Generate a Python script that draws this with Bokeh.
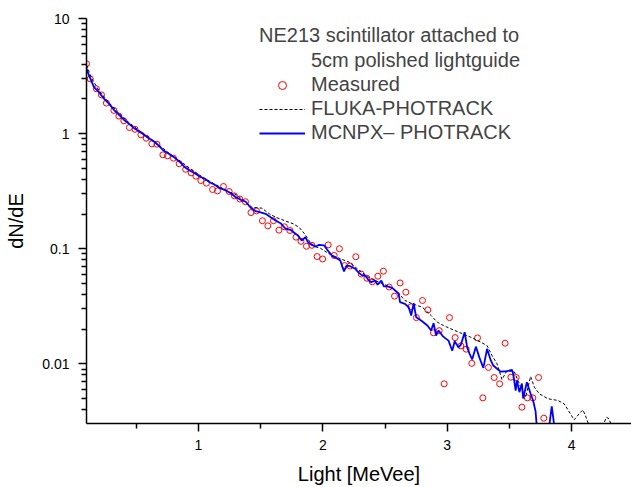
from bokeh.plotting import figure
from bokeh.models import (FixedTicker, CustomJSTickFormatter, Legend, LegendItem, Range1d)
from bokeh.embed import file_html
from bokeh.resources import INLINE

# ---- data ----
x_meas = [0.10, 0.13, 0.18, 0.22, 0.26, 0.32, 0.36, 0.40, 0.445, 0.49,
          0.537, 0.58, 0.625, 0.666, 0.714, 0.751, 0.799, 0.845, 0.897, 0.941,
          0.979, 1.019, 1.064, 1.113, 1.153, 1.201, 1.247, 1.289, 1.333, 1.378,
          1.422, 1.466, 1.514, 1.558, 1.603, 1.647, 1.691, 1.735, 1.784, 1.824,
          1.868, 1.912, 1.954, 1.998, 2.043, 2.091, 2.133, 2.175, 2.219, 2.265,
          2.308, 2.354, 2.398, 2.442, 2.487, 2.533, 2.576, 2.621, 2.667, 2.708,
          2.752, 2.801, 2.844, 2.889, 2.935, 2.975, 3.018, 3.063, 3.109, 3.152,
          3.197, 3.243, 3.286, 3.331, 3.377, 3.421, 3.465, 3.511, 3.554, 3.600,
          3.644, 3.688, 3.734, 3.776]
y_meas = [4.04, 2.99, 2.45, 2.17, 1.84, 1.59, 1.42, 1.29, 1.13, 1.09,
          0.976, 0.912, 0.815, 0.809, 0.654, 0.641, 0.611, 0.547, 0.490, 0.456,
          0.427, 0.391, 0.371, 0.327, 0.318, 0.347, 0.314, 0.288, 0.270, 0.256,
          0.206, 0.213, 0.175, 0.158, 0.175, 0.145, 0.155, 0.144, 0.126, 0.116,
          0.105, 0.107, 0.0855, 0.0814, 0.108, 0.0873, 0.100, 0.0714, 0.0708, 0.0851,
          0.0603, 0.0554, 0.0516, 0.0577, 0.0638, 0.0465, 0.0387, 0.0504, 0.0419, 0.0313,
          0.0252, 0.0355, 0.0294, 0.0186, 0.0194, 0.0067, 0.0252, 0.0169, 0.0143, 0.0134,
          0.0101, 0.0168, 0.00506, 0.0093, 0.0076, 0.0067, 0.0151, 0.00765, 0.0076, 0.0042,
          0.00506, 0.00506, 0.0076, 0.00337]

x_mcnpx = [0.10, 0.12, 0.16, 0.20, 0.24, 0.28, 0.32, 0.36, 0.40, 0.44,
           0.48, 0.52, 0.56, 0.60, 0.64, 0.68, 0.72, 0.77, 0.81, 0.85,
           0.89, 0.93, 0.97, 1.01, 1.05, 1.09, 1.13, 1.17, 1.22, 1.26,
           1.30, 1.34, 1.38, 1.42, 1.46, 1.50, 1.54, 1.58, 1.62, 1.66,
           1.70, 1.74, 1.78, 1.80, 1.83, 1.86, 1.88, 1.91, 1.94, 1.97,
           2.01, 2.05, 2.08, 2.11, 2.14, 2.17, 2.19, 2.22, 2.26, 2.29,
           2.31, 2.34, 2.37, 2.39, 2.42, 2.44, 2.47, 2.49, 2.52, 2.56,
           2.59, 2.61, 2.62, 2.66, 2.69, 2.71, 2.73, 2.75, 2.77, 2.80,
           2.84, 2.87, 2.89, 2.91, 2.93, 2.96, 2.98, 3.01, 3.04, 3.06,
           3.09, 3.11, 3.14, 3.16, 3.18, 3.20, 3.23, 3.26, 3.29, 3.32,
           3.35, 3.37, 3.40, 3.43, 3.48, 3.52, 3.53, 3.55, 3.56, 3.58,
           3.60, 3.61, 3.64, 3.67, 3.69, 3.71, 3.72, 3.77, 3.82, 3.84,
           3.86, 3.90]
y_mcnpx = [3.68, 3.20, 2.53, 2.29, 2.01, 1.82, 1.61, 1.46, 1.32, 1.22,
           1.12, 1.05, 0.982, 0.912, 0.859, 0.788, 0.713, 0.658, 0.616, 0.567,
           0.511, 0.478, 0.453, 0.424, 0.405, 0.378, 0.359, 0.336, 0.321, 0.303,
           0.280, 0.266, 0.256, 0.227, 0.212, 0.207, 0.201, 0.188, 0.176, 0.1665,
           0.149, 0.146, 0.1347, 0.130, 0.1178, 0.126, 0.114, 0.108, 0.1044, 0.108,
           0.1067, 0.0933, 0.0856, 0.0827, 0.0790, 0.0634, 0.0714, 0.0705, 0.0669, 0.0617,
           0.0593, 0.0585, 0.0529, 0.0512, 0.0529, 0.0486, 0.0529, 0.0470, 0.0470, 0.0454,
           0.0425, 0.0406, 0.0343, 0.0332, 0.0310, 0.0263, 0.0336, 0.0254, 0.0246, 0.0233,
           0.0215, 0.0195, 0.0225, 0.0176, 0.0195, 0.0176, 0.0168, 0.0159, 0.0130, 0.0157,
           0.0139, 0.0147, 0.0188, 0.0139, 0.0122, 0.0109, 0.0141, 0.0112, 0.00923, 0.0135,
           0.0107, 0.00966, 0.00905, 0.00854, 0.00862, 0.00887, 0.00819, 0.00586, 0.00716, 0.00567,
           0.00675, 0.00500, 0.00692, 0.00549, 0.00480, 0.00386, 0.0028, 0.0020, 0.0029, 0.00426,
           0.0029, 0.0020]

x_fluka = [0.10, 0.14, 0.20, 0.28, 0.36, 0.44, 0.52, 0.60, 0.68, 0.76,
           0.85, 0.93, 1.01, 1.09, 1.17, 1.25, 1.29, 1.36, 1.43, 1.51,
           1.57, 1.62, 1.70, 1.76, 1.81, 1.85, 1.90, 1.94, 1.98, 2.05,
           2.13, 2.21, 2.28, 2.36, 2.45, 2.53, 2.60, 2.66, 2.72, 2.80,
           2.87, 2.92, 2.97, 3.03, 3.11, 3.19, 3.27, 3.32, 3.36, 3.40,
           3.44, 3.48, 3.54, 3.59, 3.63, 3.67, 3.70, 3.74, 3.81, 3.89,
           3.94, 3.99, 4.02, 4.06, 4.09, 4.11, 4.14, 4.19, 4.25, 4.28,
           4.30, 4.32, 4.38]
y_fluka = [3.95, 3.05, 2.36, 1.86, 1.50, 1.25, 1.07, 0.93, 0.80, 0.68,
           0.58, 0.50, 0.435, 0.385, 0.345, 0.310, 0.300, 0.265, 0.229, 0.225,
           0.201, 0.188, 0.174, 0.165, 0.153, 0.136, 0.113, 0.104, 0.101, 0.0903,
           0.0827, 0.0764, 0.0666, 0.0570, 0.0512, 0.0471, 0.0421, 0.0355, 0.0332, 0.0310,
           0.0263, 0.0230, 0.0215, 0.0201, 0.0185, 0.0170, 0.0154, 0.0144, 0.0118, 0.0100,
           0.0073, 0.00875, 0.00849, 0.00627, 0.00513, 0.00776, 0.00627, 0.00549, 0.00497, 0.0048,
           0.00449, 0.00368, 0.00326, 0.00368, 0.00398, 0.00356, 0.0029, 0.0025, 0.0029, 0.00343,
           0.00333, 0.0029, 0.0025]

x_major_ticks = [1, 2, 3, 4]
x_minor_ticks = [0.5, 1.5, 2.5, 3.5]
y_major_ticks = [0.01, 0.1, 1, 10]
y_minor_ticks = [0.004, 0.005, 0.006, 0.007, 0.008, 0.009,
                 0.02, 0.03, 0.04, 0.05, 0.06, 0.07, 0.08, 0.09,
                 0.2, 0.3, 0.4, 0.5, 0.6, 0.7, 0.8, 0.9,
                 2, 3, 4, 5, 6, 7, 8, 9]

legend_title = "NE213 scintillator attached to"
legend_labels = ["5cm polished lightguide", "Measured", "FLUKA-PHOTRACK", "MCNPX\u2013 PHOTRACK"]
x_label = "Light [MeVee]"
y_label = "dN/dE"

FONT = "Liberation Sans"

p = figure(frame_width=545, frame_height=405,
           x_range=Range1d(0.1, 4.481), y_range=Range1d(0.00303, 10),
           y_axis_type="log", output_backend="svg", toolbar_location=None,
           min_border_left=86, min_border_right=0, min_border_top=18,
           min_border_bottom=64)
p.xgrid.visible = False
p.ygrid.visible = False
p.outline_line_color = None
p.background_fill_color = "white"
p.border_fill_color = "white"

r_meas = p.scatter(x_meas, y_meas, marker="circle", size=6, fill_color=None,
                   line_color="#ff0000", line_width=1)
r_fl = p.line(x_fluka, y_fluka, line_color="black", line_width=1, line_dash="3 2")
r_mc = p.line(x_mcnpx, y_mcnpx, line_color="#0000ff", line_width=1.8)
r_blank = p.line([], [], line_alpha=0)

for ax in (p.xaxis[0], p.yaxis[0]):
    ax.axis_line_width = 1.5
    ax.axis_line_color = "black"
    ax.major_tick_line_width = 1.5
    ax.minor_tick_line_width = 1.5
    ax.major_tick_line_color = "black"
    ax.minor_tick_line_color = "black"
    ax.major_tick_in = 0
    ax.major_tick_out = 8
    ax.minor_tick_in = 0
    ax.minor_tick_out = 5
    ax.major_label_text_font = FONT
    ax.major_label_text_font_size = "14px"
    ax.major_label_text_color = "black"
    ax.axis_label_text_font = FONT
    ax.axis_label_text_font_size = "20px"
    ax.axis_label_text_font_style = "normal"
    ax.axis_label_text_color = "black"

p.xaxis.ticker = FixedTicker(ticks=x_major_ticks, minor_ticks=x_minor_ticks)
p.yaxis.ticker = FixedTicker(ticks=y_major_ticks, minor_ticks=y_minor_ticks)
p.yaxis.formatter = CustomJSTickFormatter(code="return tick.toString();")
p.xaxis.axis_label = x_label
p.yaxis.axis_label = y_label
p.xaxis.major_label_standoff = 8
p.xaxis.axis_label_standoff = 10
p.yaxis.major_label_standoff = 9
p.yaxis.axis_label_standoff = 12

legend = Legend(
    items=[LegendItem(label=legend_labels[0], renderers=[r_blank]),
           LegendItem(label=legend_labels[1], renderers=[r_meas]),
           LegendItem(label=legend_labels[2], renderers=[r_fl]),
           LegendItem(label=legend_labels[3], renderers=[r_mc])],
    title=legend_title,
    location=(168, 274),
    glyph_width=46, glyph_height=20, label_standoff=6, padding=5,
    spacing=1, label_height=20, title_standoff=2,
    label_text_font=FONT, label_text_font_size="20px",
    title_text_font=FONT, title_text_font_size="20px",
    title_text_font_style="normal",
    background_fill_alpha=0, border_line_alpha=0,
)
p.add_layout(legend)

open("out.html", "w").write(file_html(p, INLINE))
